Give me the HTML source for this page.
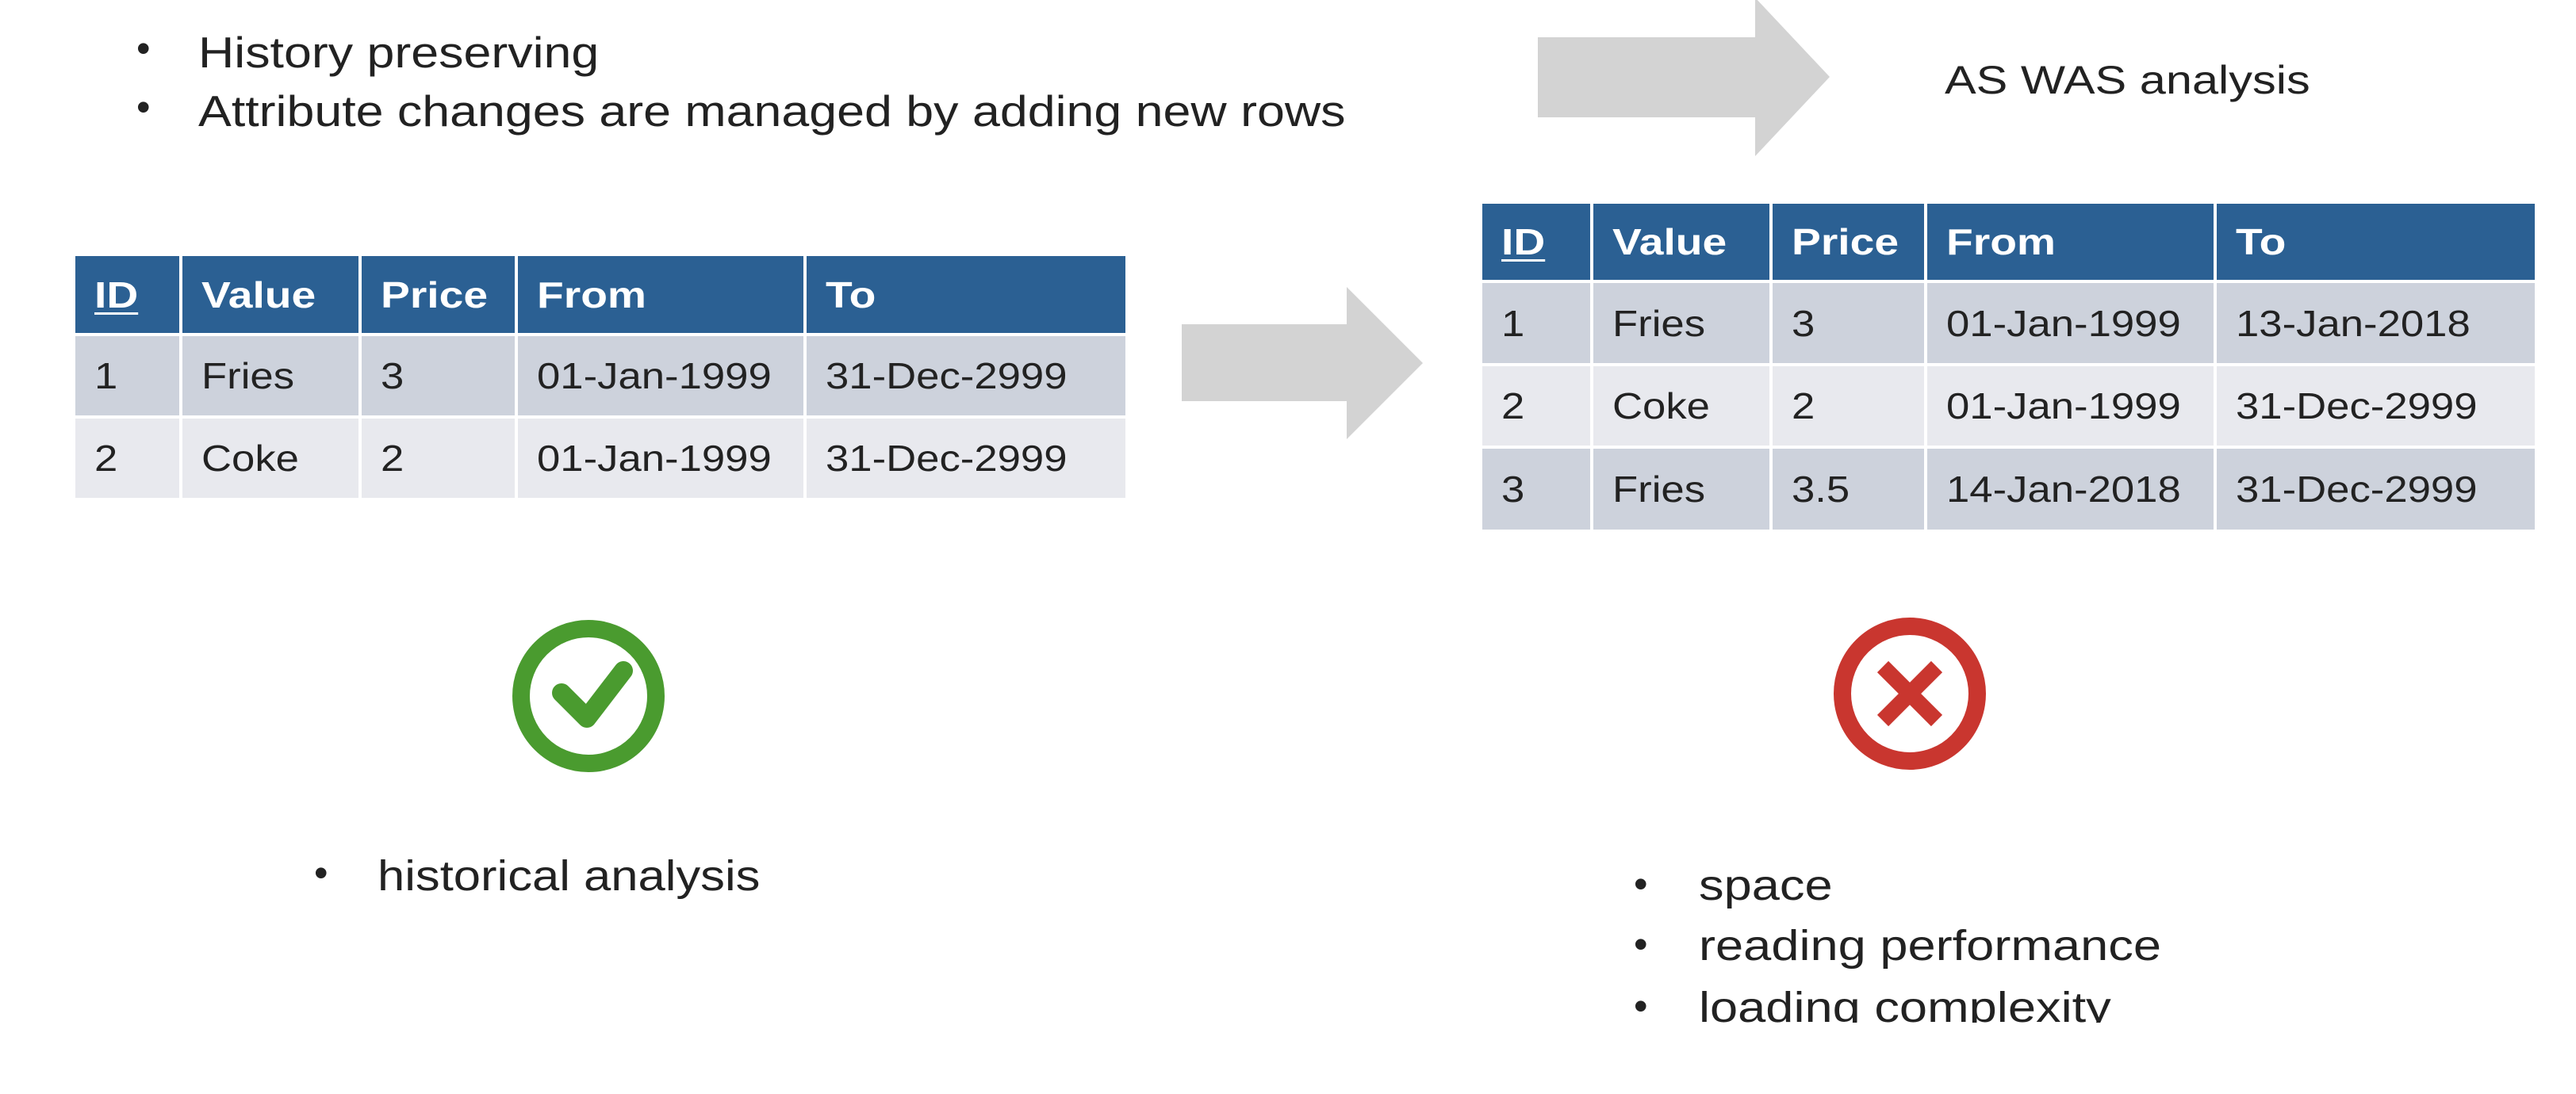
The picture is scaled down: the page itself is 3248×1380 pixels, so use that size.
<!DOCTYPE html>
<html><head><meta charset="utf-8"><style>
*{margin:0;padding:0;box-sizing:border-box}
body{width:3248px;height:1380px;background:#fff;position:relative;overflow:hidden;font-family:"Liberation Sans",sans-serif;color:#222}
.t{position:absolute;white-space:nowrap}
.s{display:inline-block;transform:scaleX(1.14);transform-origin:0 50%}
.s2{display:inline-block;transform:scaleX(1.17);transform-origin:0 50%}
table{position:absolute;border-collapse:collapse;table-layout:fixed}
td,th{border:4px solid #fff;padding:0 0 0 24px;text-align:left;font-size:46px;white-space:nowrap}
td span{display:inline-block;transform:scaleX(1.145);transform-origin:0 50%}
th span{display:inline-block;transform:scaleX(1.2);transform-origin:0 50%}
th{background:#2b6093;color:#fff;font-weight:bold}
tr.a td{background:#cdd2dc}
tr.b td{background:#e8e9ee}
th u{text-decoration-thickness:3px;text-underline-offset:6px}
</style></head><body>
<div class="t" style="left:172px;top:32px;font-size:50px">•</div>
<div class="t" style="left:250px;top:34px;font-size:55px"><span class="s">History preserving</span></div>
<div class="t" style="left:172px;top:106px;font-size:50px">•</div>
<div class="t" style="left:250px;top:108px;font-size:55px"><span class="s">Attribute changes are managed by adding new rows</span></div>

<svg style="position:absolute;left:0;top:0" width="3248" height="1380">
<polygon points="1490,409 1698,409 1698,362 1794,458 1698,554 1698,506 1490,506" fill="#d3d3d3"/>
<polygon points="1939,47 2213,47 2213,-3 2307,97 2213,197 2213,148 1939,148" fill="#d3d3d3"/>
<circle cx="742" cy="878" r="85" fill="none" stroke="#4a9b2f" stroke-width="22"/>
<polyline points="708,874 740,906 786,846" fill="none" stroke="#4a9b2f" stroke-width="24" stroke-linecap="round" stroke-linejoin="round"/>
<circle cx="2408" cy="875" r="85" fill="none" stroke="#c9362f" stroke-width="22"/>
<path d="M2374,841 L2442,909 M2442,841 L2374,909" stroke="#c9362f" stroke-width="20"/>
</svg>

<div class="t" style="left:2452px;top:72px;font-size:50px"><span class="s" style="transform:scaleX(1.19)">AS WAS analysis</span></div>

<table style="left:91px;top:319px;width:1328px">
<colgroup><col style="width:135px"><col style="width:226px"><col style="width:197px"><col style="width:364px"><col style="width:406px"></colgroup>
<tr style="height:101px"><th><span><u>ID</u></span></th><th><span>Value</span></th><th><span>Price</span></th><th><span>From</span></th><th><span>To</span></th></tr>
<tr class="a" style="height:104px"><td><span>1</span></td><td><span>Fries</span></td><td><span>3</span></td><td><span>01-Jan-1999</span></td><td><span>31-Dec-2999</span></td></tr>
<tr class="b" style="height:104px"><td><span>2</span></td><td><span>Coke</span></td><td><span>2</span></td><td><span>01-Jan-1999</span></td><td><span>31-Dec-2999</span></td></tr>
</table>

<table style="left:1865px;top:253px;width:1331px">
<colgroup><col style="width:140px"><col style="width:226px"><col style="width:195px"><col style="width:365px"><col style="width:405px"></colgroup>
<tr style="height:100px"><th><span><u>ID</u></span></th><th><span>Value</span></th><th><span>Price</span></th><th><span>From</span></th><th><span>To</span></th></tr>
<tr class="a" style="height:105px"><td><span>1</span></td><td><span>Fries</span></td><td><span>3</span></td><td><span>01-Jan-1999</span></td><td><span>13-Jan-2018</span></td></tr>
<tr class="b" style="height:104px"><td><span>2</span></td><td><span>Coke</span></td><td><span>2</span></td><td><span>01-Jan-1999</span></td><td><span>31-Dec-2999</span></td></tr>
<tr class="a" style="height:106px"><td><span>3</span></td><td><span>Fries</span></td><td><span>3.5</span></td><td><span>14-Jan-2018</span></td><td><span>31-Dec-2999</span></td></tr>
</table>

<div class="t" style="left:396px;top:1072px;font-size:50px">•</div>
<div class="t" style="left:476px;top:1074px;font-size:54px"><span class="s">historical analysis</span></div>

<div style="position:absolute;left:0;top:0;width:3248px;height:1290px;overflow:hidden">
<div class="t" style="left:2060px;top:1086px;font-size:50px">•</div>
<div class="t" style="left:2142px;top:1086px;font-size:54px"><span class="s2">space</span></div>
<div class="t" style="left:2060px;top:1162px;font-size:50px">•</div>
<div class="t" style="left:2142px;top:1162px;font-size:54px"><span class="s2">reading performance</span></div>
<div class="t" style="left:2060px;top:1240px;font-size:50px">•</div>
<div class="t" style="left:2142px;top:1240px;font-size:54px"><span class="s2">loading complexity</span></div>
</div>
</body></html>
